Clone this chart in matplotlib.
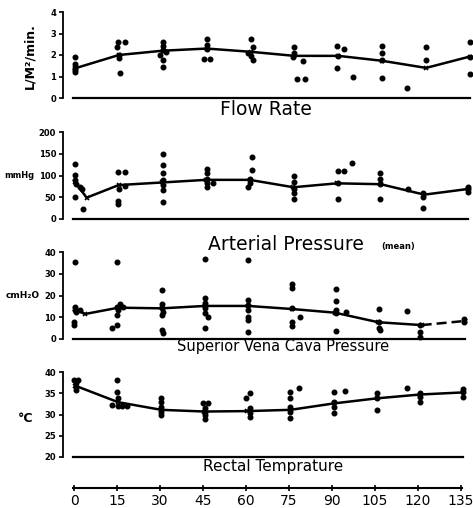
import matplotlib
matplotlib.use("Agg")
import matplotlib.pyplot as plt

# ---------------- data (minutes, values) ----------------
times = [0, 15, 30, 45, 60, 75, 90, 105, 120, 135]

# Flow rate (L/M2/min)
flow_mean_t = [0, 15, 30, 45, 60, 75, 90, 105, 120, 135]
flow_mean_v = [1.38, 2.0, 2.2, 2.3, 2.15, 1.96, 1.96, 1.73, 1.4, 1.93]
flow_pts_t = [0, 0, 0, 0, 0,
              14.8, 17.1, 14.2, 15, 15, 15.4,
              30, 30, 30, 31, 29, 30, 30,
              45, 45, 45, 44, 46,
              60, 61, 59, 60, 61,
              75, 75, 74.5, 78, 76, 78.6,
              89.5, 92, 90, 89.5, 95,
              105, 105, 105, 105,
              119.9, 119.9, 113.4,
              135, 135, 135]
flow_pts_v = [1.9, 1.6, 1.4, 1.3, 1.2,
              2.6, 2.6, 2.35, 2.0, 1.85, 1.18,
              2.6, 2.4, 2.25, 2.15, 2.0, 1.75, 1.45,
              2.75, 2.45, 2.3, 1.8, 1.8,
              2.75, 2.35, 2.1, 1.95, 1.75,
              2.35, 2.1, 1.9, 1.7, 0.9, 0.87,
              2.4, 2.3, 1.95, 1.4, 1.0,
              2.4, 2.1, 1.75, 0.95,
              2.35, 1.75, 0.47,
              2.6, 1.9, 1.13]

# Arterial pressure (mmHg)
art_mean_t = [0, 4, 15, 30, 45, 60, 75, 90, 105, 120, 135]
art_mean_v = [85, 49, 78, 84, 90, 90, 73, 82, 80, 56, 69]
art_pts_t = [0, 0, 0, 0.5, 1.7, 2.3, 0, 2.9,
             14.9, 17.2, 17.2, 15, 14.9, 14.9,
             30.3, 30.3, 30.3, 30.3, 30.3, 30.3, 30.3,
             45.2, 45.2, 45.2, 45.2, 45.2, 47.5,
             60.7, 60.7, 60, 60, 59.5,
             75.3, 75.3, 75.3, 75.3, 75.3,
             90.2, 92.5, 90.2, 90.2, 95.3,
             104.8, 104.8, 104.8, 104.8,
             114.5,
             119.7, 119.7, 119.7,
             134.9, 134.9, 134.9]
art_pts_v = [126, 101, 90, 80, 74, 70, 51, 23,
             109, 109, 77, 70, 41, 34,
             149, 123, 105, 90, 78, 67, 40,
             116, 105, 93, 82, 74, 82,
             143, 113, 93, 82, 74,
             100, 86, 70, 59, 46,
             110, 110, 83, 46, 128,
             106, 93, 80, 46,
             69,
             59, 51, 26,
             74, 69, 63]

# Superior vena cava pressure (cmH2O)
svc_mean_t = [0, 3.5, 15, 30, 45, 60, 75, 90, 105, 120, 135]
svc_mean_v = [13.6, 11.5, 14.4, 14.1, 15.2, 15.2, 13.8, 12.1, 7.7, 6.4, 8.3]
svc_pts_t = [0, 0, 0, 0.5, -0.2, -0.2, 1.7,
             14.6, 15.6, 14.4, 16.7, 15, 14.6, 14.4, 12.9,
             30, 30, 30, 30.6, 30, 30, 30.6,
             45, 45, 45, 45, 45, 46.1, 45,
             60, 60, 60, 60, 60, 60, 60,
             75.2, 75.2, 75.2, 75.2, 75.2, 77.9,
             90.3, 90.3, 90.3, 90.3, 90.3, 93.7,
             105.2, 105.2, 105.2, 105.6,
             114.8,
             119.4, 119.4, 119.4,
             134.8, 134.8]
svc_pts_v = [35.2, 14.9, 13.3, 12.6, 8, 6.4, 13.3,
             35.3, 15.9, 14.9, 14.9, 13.3, 11, 6.4, 4.9,
             22.5, 15.9, 14.1, 12.6, 11, 4.1, 2.6,
             36.8, 18.7, 16.4, 14.1, 11.8, 10.3, 5.2,
             36.3, 17.9, 15.6, 13.3, 10.3, 8.7, 3.1,
             25.1, 23.3, 14.1, 8, 6.1, 10.3,
             22.8, 17.5, 13.3, 11.8, 3.8, 12.6,
             13.6, 7.7, 4.9, 4.1,
             13,
             6.4, 3.4, 1.1,
             9.2, 8]

# Rectal temperature (deg C)
temp_mean_t = [0, 15, 30, 45, 60, 75, 90, 105, 120, 135]
temp_mean_v = [36.8, 32.9, 31.1, 30.7, 30.8, 31.1, 32.6, 33.8, 34.7, 35.2]
temp_pts_t = [-0.2, 1.2, 0.2, 0.2, 0.2,
              14.5, 14.5, 15.1, 12.8, 15.1, 16.2, 18,
              29.9, 29.9, 29.9, 29.9, 29.9,
              44.6, 46.4, 45.2, 45.2, 45.2, 45.2,
              60.9, 59.4, 60.9, 60.9, 60.9,
              74.8, 74.8, 74.8, 74.8, 74.8, 77.9,
              90.2, 90.2, 90.2, 90.2, 93.9,
              105, 105, 105,
              115.4,
              120, 120, 120,
              135.1, 135.1, 135.1]
temp_pts_v = [38.1, 38.1, 37.3, 36.5, 35.8,
              38.1, 35.4, 34, 32.3, 32.1, 32, 32,
              34, 32.9, 31.8, 30.7, 29.9,
              32.6, 32.6, 31.6, 30.7, 29.9, 28.9,
              35, 33.8, 31.6, 30.3, 29.3,
              35.4, 33.8, 31.8, 30.7, 29.1, 36.2,
              35.2, 32.9, 31.8, 30.3, 35.5,
              35, 33.8, 31.1,
              36.3,
              35, 34.2, 32.9,
              36, 35.2, 34.2]

titles = ["Flow Rate", "Arterial Pressure", "Superior Vena Cava Pressure", "Rectal Temprature"]
units = ["L/M\u00b2/min.", "mmHg", "cmH\u2082O", "\u00b0C"]
yticks = [[0, 1, 2, 3, 4], [0, 50, 100, 150, 200], [0, 10, 20, 30, 40], [20, 25, 30, 35, 40]]
xtick_labels = ["0", "15", "30", "45", "60", "75", "90", "105", "120", "135"]

# ---------------- layout ----------------
W, H = 473, 508
fig = plt.figure(figsize=(W / 100, H / 100), dpi=100)
plt.rcParams['font.family'] = ['DejaVu Sans']

# (top_px, bottom_px, right_px of t=135)
geo = [(12, 98, 470), (132, 219, 468), (252, 339, 465), (372, 457, 463)]
left_px, x0_px, axr_px = 63, 75, 473

series = [
    (flow_mean_t, flow_mean_v, flow_pts_t, flow_pts_v),
    (art_mean_t, art_mean_v, art_pts_t, art_pts_v),
    (svc_mean_t, svc_mean_v, svc_pts_t, svc_pts_v),
    (temp_mean_t, temp_mean_v, temp_pts_t, temp_pts_v),
]

for i, ((top, bot, r135), (mt, mv, pt, pv)) in enumerate(zip(geo, series)):
    ax = fig.add_axes([left_px / W, 1 - bot / H, (axr_px - left_px) / W, (bot - top) / H])
    scale = (r135 - x0_px) / 135.0
    ax.set_xlim(-(x0_px - left_px) / scale, 135 + (axr_px - r135) / scale)
    ax.set_ylim(yticks[i][0], yticks[i][-1])
    for s in ["top", "right", "bottom"]:
        ax.spines[s].set_visible(False)
    ax.spines["left"].set_linewidth(1.3)
    ax.set_xticks([])
    ax.set_yticks(yticks[i])
    ax.set_yticklabels([str(v) for v in yticks[i]], fontsize=6, fontweight="bold")
    ax.tick_params(axis="y", length=3, width=1.2, pad=2)
    ax.patch.set_visible(False)
    # baseline
    ax.axhline(yticks[i][0], xmin=(73 - left_px) / (axr_px - left_px),
               xmax=(r135 - left_px) / (axr_px - left_px), color="black", lw=1.6,
               clip_on=False)
    if i == 2:
        ax.plot(mt[:-1], mv[:-1], color="black", lw=1.8, clip_on=False, solid_capstyle="round")
        ax.plot(mt[-2:], mv[-2:], color="black", lw=1.8, ls=(0, (4, 2)), clip_on=False)
    else:
        ax.plot(mt, mv, color="black", lw=1.8, clip_on=False, solid_capstyle="round")
    ax.plot(mt, mv, ls="none", marker="x", ms=3.5, mew=1.2, color="black", clip_on=False)
    ax.plot(pt, pv, ls="none", marker="o", ms=3.3, color="black", clip_on=False)

# titles under each panel
def ftext(x, y, s, **kw):
    fig.text(x / W, 1 - y / H, s, ha="center", va="center", **kw)

ftext(266, 109, titles[0], fontsize=13.5)
ftext(286, 245, titles[1], fontsize=13.5)
ftext(398, 247, "(mean)", fontsize=6, fontweight="bold")
ftext(283, 347, titles[2], fontsize=10.5)
ftext(273, 467, titles[3], fontsize=11)

# units
ftext(30, 56, units[0], fontsize=9, fontweight="bold", rotation=90)
ftext(19, 176, units[1], fontsize=6, fontweight="bold")
ftext(23, 296, units[2], fontsize=6.5, fontweight="bold")
ftext(26, 418, units[3], fontsize=9, fontweight="bold")

# bottom time axis
axb = fig.add_axes([73 / W, 1 - 488 / H, (462 - 73) / W, 0.001])
sc = (461 - 74) / 135.0
axb.set_xlim(-(74 - 73) / sc, 135 + (462 - 461) / sc)
for s in ["top", "right", "left"]:
    axb.spines[s].set_visible(False)
axb.spines["bottom"].set_linewidth(1.5)
axb.set_yticks([])
axb.set_xticks(times)
axb.set_xticklabels(xtick_labels, fontsize=10)
axb.tick_params(axis="x", direction="inout", length=4, width=1.2, pad=2)
axb.patch.set_visible(False)

fig.savefig("out.png", dpi=100)
